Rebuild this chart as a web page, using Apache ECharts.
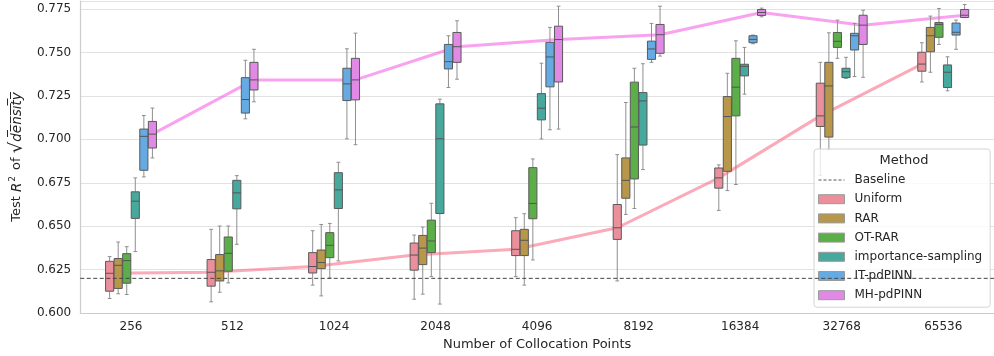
<!DOCTYPE html>
<html><head><meta charset="utf-8">
<script src="https://cdn.jsdelivr.net/npm/echarts@6/dist/echarts.min.js"></script>
<style>html,body{margin:0;padding:0;background:#fff}#c{width:994px;height:356px}</style>
</head><body><div id="c"></div><script>
const categories = ['256','512','1024','2048','4096','8192','16384','32768','65536'];
const methods = ['Uniform','RAR','OT-RAR','importance-sampling','IT-pdPINN','MH-pdPINN'];
const baseline = 0.620;
const yTicks = [0.600,0.625,0.650,0.675,0.700,0.725,0.750,0.775];
// each row: [lower whisker, q1, median, q3, upper whisker]
const uniform = [
  [0.6084,0.6126,0.6229,0.6298,0.6325],[0.6065,0.6155,0.6235,0.6308,0.6482],[0.6161,0.6231,0.6268,0.6348,0.6474],
  [0.6080,0.6247,0.6334,0.6403,0.6449],[0.6210,0.6331,0.6367,0.6474,0.6549],[0.6185,0.6424,0.6491,0.6625,0.6912],
  [0.6591,0.6719,0.6778,0.6835,0.6853],[0.6793,0.7074,0.7135,0.7323,0.7443],[0.7330,0.7392,0.7433,0.7501,0.7556]];
const rar = [
  [0.6111,0.6142,0.6275,0.6314,0.6409],[0.6120,0.6185,0.6243,0.6337,0.6501],[0.6099,0.6256,0.6291,0.6363,0.6510],
  [0.6109,0.6279,0.6374,0.6447,0.6495],[0.6161,0.6331,0.6419,0.6482,0.6572],[0.6568,0.6661,0.6764,0.6893,0.7212],
  [0.6705,0.6816,0.7131,0.7246,0.7380],[0.6940,0.7013,0.7307,0.7443,0.7613],[0.7386,0.7504,0.7596,0.7644,0.7709]];
const otRar = [
  [0.6107,0.6172,0.6302,0.6342,0.6382],[0.6174,0.6241,0.6344,0.6438,0.6501],[0.6202,0.6319,0.6390,0.6463,0.6516],
  [0.6210,0.6348,0.6415,0.6535,0.6632],[0.6306,0.6543,0.6631,0.6837,0.6887],[0.6602,0.6772,0.7071,0.7329,0.7409],
  [0.6740,0.7135,0.7300,0.7466,0.7567],[0.7466,0.7529,0.7564,0.7615,0.7686],[0.7546,0.7587,0.7661,0.7672,0.7753]];
const importanceSampling = [
  [0.6354,0.6545,0.6644,0.6698,0.6778],[0.6396,0.6600,0.6692,0.6764,0.6791],[0.6300,0.6602,0.6709,0.6808,0.6868],
  [0.6052,0.6573,0.7003,0.7204,0.7231],[0.7002,0.7112,0.7179,0.7263,0.7438],[0.6826,0.6967,0.7221,0.7269,0.7435],
  [0.7260,0.7365,0.7420,0.7432,0.7529],[0.7351,0.7355,0.7389,0.7409,0.7472],[0.7279,0.7298,0.7386,0.7428,0.7475]];
const itPdpinn = [
  [0.6784,0.6822,0.7017,0.7059,0.7137],[0.7118,0.7151,0.7229,0.7355,0.7455],[0.7003,0.7223,0.7319,0.7409,0.7521],
  [0.7298,0.7405,0.7447,0.7546,0.7596],[0.7055,0.7302,0.7474,0.7558,0.7644],[0.7443,0.7460,0.7520,0.7565,0.7667],
  [0.7550,0.7556,0.7575,0.7596,0.7600],[0.7361,0.7514,0.7596,0.7610,0.7667],[0.7518,0.7600,0.7616,0.7669,0.7686]];
const mhPdpinn = [
  [0.6893,0.6950,0.7030,0.7103,0.7180],[0.7216,0.7284,0.7342,0.7443,0.7518],[0.6969,0.7227,0.7342,0.7466,0.7611],
  [0.7346,0.7443,0.7533,0.7615,0.7682],[0.7059,0.7330,0.7574,0.7651,0.7766],[0.7479,0.7495,0.7602,0.7661,0.7766],
  [0.7705,0.7713,0.7730,0.7747,0.7755],[0.7357,0.7546,0.7657,0.7714,0.7743],[0.7701,0.7701,0.7714,0.7747,0.7776]];

const stats = [uniform, rar, otRar, importanceSampling, itPdpinn, mhPdpinn];
const colors = ['#ea8f9b','#b8974a','#5caf48','#47a89d','#65aae3','#e08ae6'];
const lineColors = {0:'#f77189', 5:'#f564e4'};
const FONT = 'DejaVu Sans';
const SLOT = 0.0843;

function boxSeries(k){
  return {
    type:'custom', name:methods[k], xAxisIndex:0, yAxisIndex:0, z:3,
    itemStyle:{color:colors[k]},
    encode:{x:0, y:[1,2,3,4,5]},
    data: stats[k].map((s,i)=>[i].concat(s)),
    renderItem:(params, api)=>{
      const ci = api.value(0);
      const band = api.size([1,0])[0];
      const slot = band*SLOT;
      const cx = api.coord([ci,0])[0] + (k-2.5)*slot;
      const y = [1,2,3,4,5].map(d=>api.coord([ci, api.value(d)])[1]);
      const bw = slot*0.95, cap = slot*0.22;
      const ws = {stroke:'#8f8f8f', lineWidth:1};
      return {type:'group', children:[
        {type:'line', shape:{x1:cx,y1:y[4],x2:cx,y2:y[3]}, style:ws},
        {type:'line', shape:{x1:cx,y1:y[1],x2:cx,y2:y[0]}, style:ws},
        {type:'line', shape:{x1:cx-cap,y1:y[4],x2:cx+cap,y2:y[4]}, style:ws},
        {type:'line', shape:{x1:cx-cap,y1:y[0],x2:cx+cap,y2:y[0]}, style:ws},
        {type:'rect', shape:{x:cx-bw/2,y:y[3],width:bw,height:y[1]-y[3]}, style:{fill:colors[k], stroke:'#5a5a5a', lineWidth:1}},
        {type:'line', shape:{x1:cx-bw/2,y1:y[2],x2:cx+bw/2,y2:y[2]}, style:{stroke:'#555', lineWidth:1}}
      ]};
    }
  };
}
function medianLine(k){
  return {
    type:'line', name:methods[k]+' trend', xAxisIndex:1, yAxisIndex:0, z:2,
    symbol:'none', silent:true,
    lineStyle:{color:lineColors[k], width:3, opacity:0.6},
    data: stats[k].map((s,i)=>[i+(k-2.5)*SLOT, s[2]])
  };
}

const chart = echarts.init(document.getElementById('c'));
chart.setOption({
  animation:false,
  textStyle:{fontFamily:FONT},
  grid:{left:76, top:1, width:926, height:313},
  xAxis:[{
    type:'category', data:categories,
    name:'Number of Collocation Points', nameLocation:'middle', nameGap:23,
    nameTextStyle:{fontFamily:FONT, fontSize:13, color:'#262626'},
    axisLine:{onZero:false, lineStyle:{color:'#cccccc', width:1.2}}, axisTick:{show:false},
    axisLabel:{fontFamily:FONT, fontSize:12, color:'#262626', margin:8},
    splitLine:{show:false}
  },{
    type:'value', min:-0.5, max:8.5, show:false, axisLine:{onZero:false}
  }],
  yAxis:{
    type:'value', min:yTicks[0], max:0.7796, interval:0.025,
    name:'Test {i|R}{s|2} of {r|√}{i|d̅e̅n̅s̅i̅t̅y̅}', nameLocation:'middle', nameRotate:90, nameGap:46,
    nameTextStyle:{fontFamily:FONT, fontSize:13, color:'#262626', rich:{
      i:{fontStyle:'italic', fontFamily:FONT, fontSize:13.5, color:'#262626'},
      s:{fontFamily:FONT, fontSize:9, color:'#262626', verticalAlign:'top', padding:[0,2,6,1]},
      r:{fontFamily:FONT, fontSize:18, color:'#262626'}}},
    axisLine:{show:true, onZero:false, lineStyle:{color:'#cccccc', width:1.2}}, axisTick:{show:false},
    axisLabel:{fontFamily:FONT, fontSize:12, color:'#262626', margin:9,
      formatter:v=>yTicks.some(t=>Math.abs(t-v)<1e-6)?v.toFixed(3):''},
    splitLine:{lineStyle:{color:'#e2e2e2', width:1}}
  },
  legend:{
    orient:'vertical', left:814, top:149,
    padding:[24,8,5,4],
    itemWidth:26, itemHeight:9, itemGap:5.2,
    backgroundColor:'rgba(255,255,255,0.8)', borderColor:'#d4d4d4', borderWidth:1, borderRadius:3,
    textStyle:{fontFamily:FONT, fontSize:12, color:'#262626', lineHeight:14, padding:[0,0,0,5]},
    data:[{name:'Baseline', itemStyle:{opacity:0}, lineStyle:{color:'#555', width:1, type:[3,2]}}]
      .concat(methods.map(m=>({name:m, icon:'rect', itemStyle:{borderColor:'#9a9a9a', borderWidth:1}})))
  },
  graphic:[{type:'text', x:904, y:161, z:100,
    style:{text:'Method', fontFamily:FONT, fontSize:13, fill:'#262626', align:'center', verticalAlign:'middle'}}],
  series:[
    medianLine(0), medianLine(5),
    ...methods.map((m,k)=>boxSeries(k)),
    {type:'line', name:'Baseline', xAxisIndex:1, yAxisIndex:0, z:5, symbol:'none', silent:true,
     lineStyle:{color:'#444', width:1, type:[4,2.5]},
     data:[[-0.5, baseline],[8.5, baseline]]}
  ]
});
</script></body></html>
